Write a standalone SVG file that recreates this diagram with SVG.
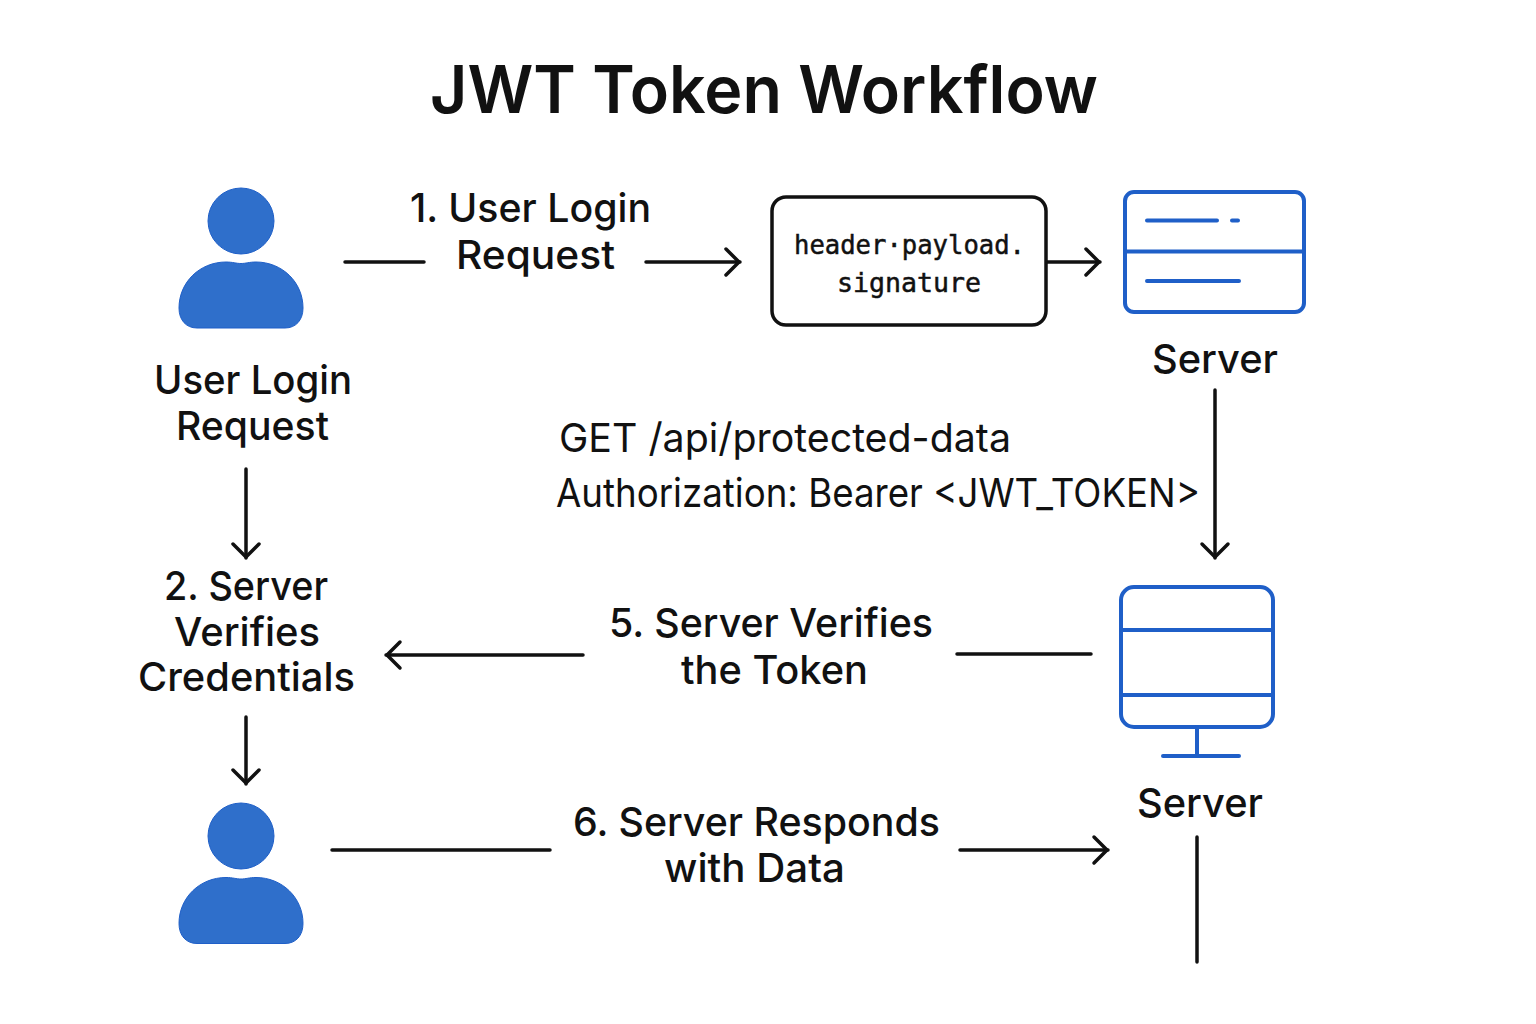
<svg xmlns="http://www.w3.org/2000/svg" width="1536" height="1024" viewBox="0 0 1536 1024">
<defs>
<marker id="arr" viewBox="0 0 20 32" refX="17" refY="16" markerWidth="20" markerHeight="32" markerUnits="userSpaceOnUse" orient="auto"><path d="M3 3L16 16L3 29" fill="none" stroke="#111" stroke-width="3.500" stroke-linecap="round" stroke-linejoin="round"/></marker>
<path id="body" d="M179 308C179 282 200 262 226 262C233 262 236 263.500 241 263.500C246 263.500 249 262 256 262C282 262 303 282 303 308C303 320 296 328 285 328H197C186 328 179 320 179 308Z"/>
</defs>
<style>
text{font-family:Inter,"Liberation Sans",sans-serif;fill:#111;text-anchor:middle;font-weight:500}
.l{font-size:40px}
.r{font-size:40px;font-weight:400}
.m{font-family:"DejaVu Sans Mono","Liberation Mono",monospace;font-size:27px;stroke:#111;stroke-width:.5px}
.c{fill:none;stroke:#111;stroke-width:3.500;stroke-linecap:round}
.b{fill:none;stroke:#1f5fc8;stroke-width:4;stroke-linecap:round}
.p{fill:#2f6fcb;stroke:#1f5fc8;stroke-width:1}
</style>
<rect width="1536" height="1024" fill="#fff"/>
<text id="title" x="764" y="113" font-size="66" style="font-weight:600" textLength="668" lengthAdjust="spacingAndGlyphs">JWT Token Workflow</text>
<g id="connectors">
<path class="c" d="M345 262H424"/>
<path class="c" marker-end="url(#arr)" d="M646 262H740"/>
<path class="c" marker-end="url(#arr)" d="M1047 262H1100"/>
<path class="c" marker-end="url(#arr)" d="M1215 390V558"/>
<path class="c" marker-end="url(#arr)" d="M246 469V558"/>
<path class="c" marker-end="url(#arr)" d="M246 717V784"/>
<path class="c" marker-end="url(#arr)" d="M583 655H386"/>
<path class="c" d="M1091 654H957"/>
<path class="c" d="M332 850H550"/>
<path class="c" marker-end="url(#arr)" d="M960 850H1108"/>
<path class="c" d="M1197 837V962"/>
</g>
<g id="user-1"><circle class="p" cx="241" cy="221" r="33"/><use href="#body" class="p"/>
<text class="l" x="253" y="394" textLength="198" lengthAdjust="spacingAndGlyphs">User Login</text><text class="l" x="252.500" y="440" textLength="153" lengthAdjust="spacingAndGlyphs">Request</text></g>
<g id="label-1"><text class="l" x="530.500" y="222" textLength="241" lengthAdjust="spacingAndGlyphs">1. User Login</text><text class="l" x="535.500" y="269" textLength="159" lengthAdjust="spacingAndGlyphs">Request</text></g>
<g id="token"><rect x="772" y="197" width="274" height="128" rx="14" fill="#fff" stroke="#111" stroke-width="3.500"/>
<text class="m" x="909.500" y="254" textLength="231" lengthAdjust="spacingAndGlyphs">header·payload.</text><text class="m" x="909" y="292" textLength="144" lengthAdjust="spacingAndGlyphs">signature</text></g>
<g id="server-1"><rect class="b" x="1125" y="192" width="179" height="120" rx="9"/><path class="b" d="M1125 251.500H1304M1147 220.500H1217M1232 220.500H1238M1147 281H1239"/>
<text class="l" x="1215" y="373" textLength="126" lengthAdjust="spacingAndGlyphs">Server</text></g>
<g id="request"><text class="r" x="785" y="452" textLength="452" lengthAdjust="spacingAndGlyphs">GET /api/protected-data</text><text class="r" x="878" y="507" textLength="644" lengthAdjust="spacingAndGlyphs">Authorization: Bearer &lt;JWT_TOKEN&gt;</text></g>
<g id="step-2"><text class="l" x="246" y="600" textLength="164" lengthAdjust="spacingAndGlyphs">2. Server</text><text class="l" x="247" y="646" textLength="146" lengthAdjust="spacingAndGlyphs">Verifies</text><text class="l" x="246.500" y="691" textLength="217" lengthAdjust="spacingAndGlyphs">Credentials</text></g>
<g id="step-5"><text class="l" x="771" y="637" textLength="324" lengthAdjust="spacingAndGlyphs">5. Server Verifies</text><text class="l" x="774.500" y="684" textLength="187" lengthAdjust="spacingAndGlyphs">the Token</text></g>
<g id="server-2"><rect class="b" x="1121" y="587" width="152" height="140" rx="13"/><path class="b" d="M1121 630H1273M1121 695H1273M1197 727V756M1163 756H1239"/>
<text class="l" x="1200" y="817" textLength="126" lengthAdjust="spacingAndGlyphs">Server</text></g>
<g id="user-2"><circle class="p" cx="241" cy="836" r="33"/><use href="#body" class="p" y="615.500"/></g>
<g id="step-6"><text class="l" x="756.500" y="836" textLength="367" lengthAdjust="spacingAndGlyphs">6. Server Responds</text><text class="l" x="754.500" y="882" textLength="181" lengthAdjust="spacingAndGlyphs">with Data</text></g>
</svg>
